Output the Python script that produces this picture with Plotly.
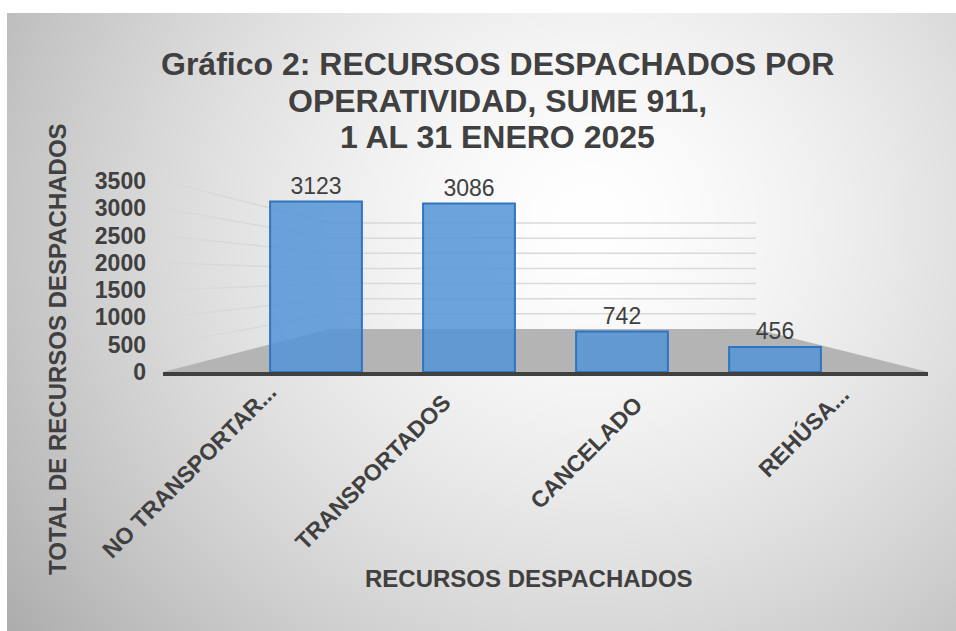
import base64, struct, zlib
import numpy as np
import plotly.graph_objects as go

# ---------------- data ----------------
categories = ["NO TRANSPORTAR...", "TRANSPORTADOS", "CANCELADO", "REHÚSA..."]
values = [3123, 3086, 742, 456]
y_ticks = [0, 500, 1000, 1500, 2000, 2500, 3000, 3500]
title_lines = ["Gráfico 2: RECURSOS DESPACHADOS POR",
               "OPERATIVIDAD, SUME 911,",
               "1 AL 31 ENERO 2025"]
x_title = "RECURSOS DESPACHADOS"
y_title = "TOTAL DE RECURSOS DESPACHADOS"

# ---------------- geometry (pixels) ----------------
W, H = 956, 631
L, R, T, B = 163, 28, 181, 259
PW = W - L - R
PH = H - T - B
YMAX = 3500

# category label placement (centre of rotated label, pixel offsets)
label_dx = [-127, -96, -36, 28]
label_py = [471, 472, 453, 431]


def px_x(px):
    return (px - L) / PW


def px_y(py):
    return (H - B - py) / PH


# ---------------- background gradient image ----------------
def gradient_png(w, h, x0, y0, full_w, full_h):
    xs = (np.arange(w) + 0.5) * full_w / w + x0
    ys = (np.arange(h) + 0.5) * full_h / h + y0
    X, Y = np.meshgrid(xs, ys)
    d = np.sqrt(((X - 590) / 560) ** 2 + ((Y - 220) / 520) ** 2)
    d = np.clip(d, 0, 1.3)
    g = np.clip(255 - 55 * d ** 1.5, 0, 255).astype(np.uint8)
    raw = b"".join(b"\x00" + g[i].tobytes() for i in range(h))

    def chunk(tag, data):
        c = struct.pack(">I", len(data)) + tag + data
        return c + struct.pack(">I", zlib.crc32(tag + data) & 0xFFFFFFFF)

    png = b"\x89PNG\r\n\x1a\n"
    png += chunk(b"IHDR", struct.pack(">IIBBBBB", w, h, 8, 0, 0, 0, 0))
    png += chunk(b"IDAT", zlib.compress(raw, 9))
    png += chunk(b"IEND", b"")
    return "data:image/png;base64," + base64.b64encode(png).decode()


bg_x0, bg_y0 = 7, 13
bg_w, bg_h = W - bg_x0, H - bg_y0
bg_src = gradient_png(bg_w // 2, bg_h // 2, bg_x0, bg_y0, bg_w, bg_h)

TXT = "#404040"
FONT = "Liberation Sans, Arial, sans-serif"

fig = go.Figure()
fig.add_trace(go.Bar(
    x=categories, y=values, width=0.6,
    marker=dict(color="rgba(84,148,214,0.85)",
                line=dict(color="#2f74c0", width=2)),
    text=[str(v) for v in values], textposition="outside",
    textfont=dict(size=23, color=TXT, family=FONT),
    cliponaxis=False, showlegend=False, hoverinfo="skip",
))

shapes = []
# floor
back_left, back_right = px_x(330), px_x(756)
floor_back = 788
shapes.append(dict(type="path", xref="paper", yref="y", layer="below",
                   path=f"M 0,0 L 1,0 L {back_right},{floor_back} L {back_left},{floor_back} Z",
                   fillcolor="#b4b4b4", line=dict(width=0)))
# perspective gridlines (side wall + back wall)
for v in y_ticks[1:]:
    vb = floor_back + v * (2730 - floor_back) / YMAX
    shapes.append(dict(type="line", xref="paper", yref="y", layer="below",
                       x0=0, y0=v, x1=back_left, y1=vb,
                       line=dict(color="#d9d9d9", width=1.5)))
    shapes.append(dict(type="line", xref="paper", yref="y", layer="below",
                       x0=back_left, y0=vb, x1=back_right, y1=vb,
                       line=dict(color="#d9d9d9", width=1.5)))

annotations = []
for line, py in zip(title_lines, [64, 101, 137]):
    annotations.append(dict(text=f"<b>{line}</b>", xref="paper", yref="paper",
                            x=px_x(497), y=px_y(py), xanchor="center", yanchor="middle",
                            showarrow=False, font=dict(size=32, color=TXT, family=FONT)))
annotations.append(dict(text=f"<b>{y_title}</b>", xref="paper", yref="paper",
                        x=px_x(57), y=px_y(349), textangle=-90,
                        xanchor="center", yanchor="middle", showarrow=False,
                        font=dict(size=24, color=TXT, family=FONT)))
annotations.append(dict(text=f"<b>{x_title}</b>", xref="paper", yref="paper",
                        x=px_x(529), y=px_y(578), xanchor="center", yanchor="middle",
                        showarrow=False, font=dict(size=24, color=TXT, family=FONT)))
for cat, dx, py in zip(categories, label_dx, label_py):
    annotations.append(dict(text=f"<b>{cat}</b>", xref="x", yref="paper",
                            x=cat, xshift=dx, y=px_y(py), textangle=-45,
                            xanchor="center", yanchor="middle", showarrow=False,
                            font=dict(size=23, color=TXT, family=FONT)))

fig.update_layout(
    width=W, height=H, autosize=False,
    margin=dict(l=L, r=R, t=T, b=B, pad=0),
    paper_bgcolor="white", plot_bgcolor="rgba(0,0,0,0)",
    font=dict(family=FONT, color=TXT),
    shapes=shapes, annotations=annotations,
    images=[dict(source=bg_src, xref="paper", yref="paper",
                 x=px_x(bg_x0), y=px_y(bg_y0),
                 sizex=bg_w / PW, sizey=bg_h / PH,
                 xanchor="left", yanchor="top", sizing="stretch", layer="below")],
    xaxis=dict(type="category", range=[-1, 4], showgrid=False, zeroline=False,
               showline=True, linecolor="#404040", linewidth=4,
               showticklabels=False, ticks=""),
    yaxis=dict(range=[0, YMAX], tickvals=y_ticks, showgrid=False, zeroline=False,
               showline=False, ticks="", ticklabelstandoff=16,
               tickfont=dict(size=23, color=TXT, family=FONT, weight="bold")),
)

fig.write_html("out.html", config={"displayModeBar": False},
               post_script="document.body.style.margin='0';document.body.style.overflow='hidden';")
